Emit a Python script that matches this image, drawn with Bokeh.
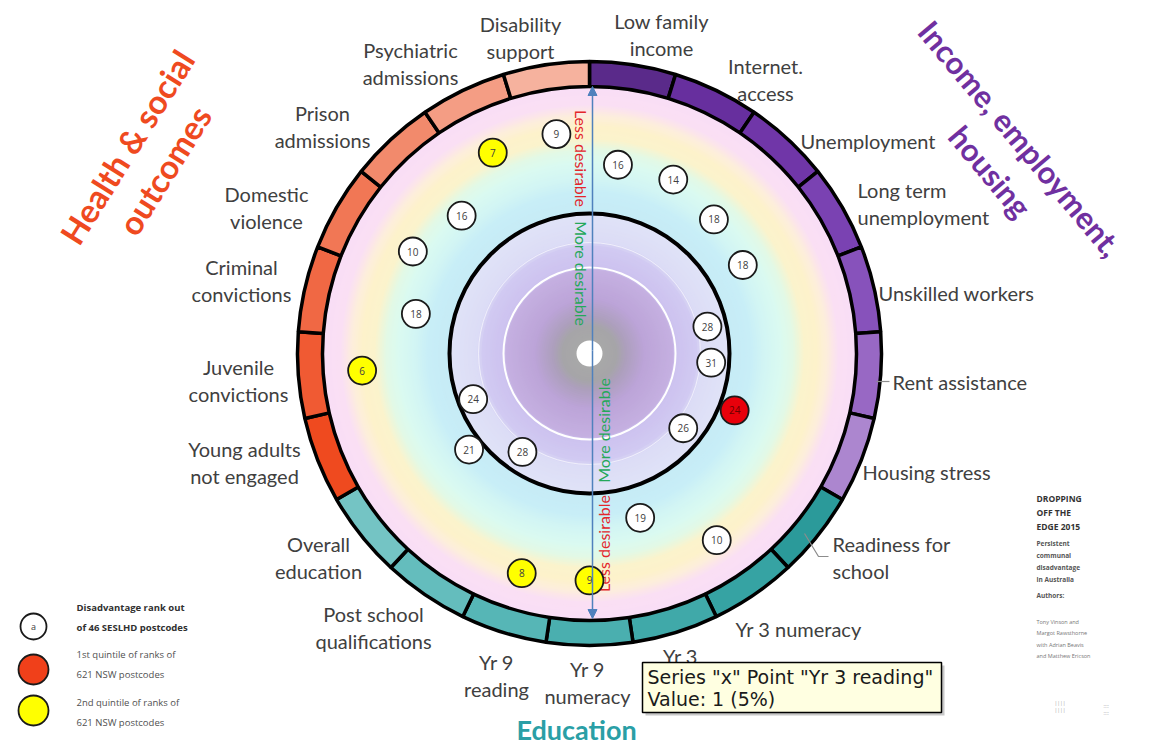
import math
from bokeh.plotting import figure
from bokeh.models import Range1d, ColumnDataSource, Arrow, NormalHead
from bokeh.embed import file_html
from bokeh.resources import INLINE
from bokeh.core.properties import value

# ---------------- data ----------------
CATEGORIES = ["Low family income", "Internet access", "Unemployment", "Long term unemployment",
              "Unskilled workers", "Rent assistance", "Housing stress",
              "Readiness for school", "Yr 3 numeracy", "Yr 3 reading", "Yr 9 numeracy",
              "Yr 9 reading", "Post school qualifications", "Overall education",
              "Young adults not engaged", "Juvenile convictions", "Criminal convictions",
              "Domestic violence", "Prison admissions", "Psychiatric admissions",
              "Disability support"]
LABELS = ["Low family\nincome", "Internet.\naccess", "Unemployment", "Long term\nunemployment",
          "Unskilled workers", "Rent assistance", "Housing stress",
          "Readiness for\nschool", "Yr 3 numeracy", "Yr 3\nreading", "Yr 9\nnumeracy",
          "Yr 9\nreading", "Post school\nqualifications", "Overall\neducation",
          "Young adults\nnot engaged", "Juvenile\nconvictions", "Criminal\nconvictions",
          "Domestic\nviolence", "Prison\nadmissions", "Psychiatric\nadmissions",
          "Disability\nsupport"]
PIE_VALUES = [1] * 21          # series "x", each point value 1 (5%)
RANKS = [16, 14, 18, 18, 28, 31, 24, 26, 10, 19, 9, 8, 28, 21, 24, 6, 18, 10, 16, 7, 9]
# 0 = rank only, 1 = 1st quintile NSW, 2 = 2nd quintile NSW
QUINTILE = [0, 0, 0, 0, 0, 0, 1, 0, 0, 0, 2, 2, 0, 0, 0, 2, 0, 0, 0, 2, 0]
# radial distance (% of the inner edge of the outer ring)
DISTANCE = [71.5, 72.3, 68.5, 66.3, 45.3, 45.7, 58.4, 44.9, 84.6, 64.4, 85.0,
            86.1, 44.6, 57.7, 46.8, 85.4, 66.7, 76.4, 70.4, 83.5, 83.1]

# ---------------- styles / layout ----------------
SEG_COLORS = ["#5a2a8a", "#672f9e", "#7036a8", "#7a42b2", "#8752bb", "#9868c4", "#ac86cf",
              "#2b9a9a", "#36a3a3", "#40a9a9", "#4aafaf", "#56b6b6", "#64bdbd", "#74c4c4",
              "#ef4a1f", "#f05a33", "#f06844", "#f17755", "#f28a6c", "#f49d84", "#f6b29e"]
# label anchors in page pixels (x, y, align)
LABEL_LAYOUT = [(661, 34, "center"), (765, 79, "center"), (800, 140, "left"), (857, 203, "left"),
                (878, 292, "left"), (892, 381, "left"), (862, 471, "left"),
                (832, 557, "left"), (735, 628, "left"), (680, 669, "center"), (587, 682, "center"),
                (496, 675, "center"), (373, 627, "center"), (318, 557, "center"),
                (244, 462, "center"), (238, 380, "center"), (241, 280, "center"),
                (266, 207, "center"), (322, 126, "center"), (410, 63, "center"),
                (520, 37, "center")]

CXI, CYI = 589, 353           # centre of the wheel, page pixels
R_IN, R_OUT = 267, 292


def X(px):
    return px - CXI


def Y(py):
    return CYI - py


W, H = 1154, 747
p = figure(width=W, height=H, x_range=Range1d(-CXI, W - CXI),
           y_range=Range1d(CYI - H, CYI), output_backend="svg",
           toolbar_location=None, min_border=0)
p.axis.visible = False
p.grid.visible = False
p.outline_line_color = None
p.background_fill_color = "white"
p.border_fill_color = "white"


def hex2rgb(h):
    h = h.lstrip("#")
    return tuple(int(h[i:i + 2], 16) for i in (0, 2, 4))


def rgb2hex(c):
    return "#%02x%02x%02x" % tuple(int(round(v)) for v in c)


def gradient_discs(stops, step=2.0):
    radii, cols = [], []
    for (r0, c0), (r1, c1) in zip(stops[:-1], stops[1:]):
        a, b = hex2rgb(c0), hex2rgb(c1)
        n = max(1, int(abs(r0 - r1) / step))
        for k in range(n):
            t = k / n
            radii.append(r0 + (r1 - r0) * t)
            cols.append(rgb2hex([a[j] + (b[j] - a[j]) * t for j in range(3)]))
    return radii, cols


band_stops = [(268, "#f9def6"), (250, "#fadff4"), (238, "#fdeedb"), (228, "#fdf2cb"),
              (216, "#fbf3cc"), (204, "#e2f9e6"), (192, "#dafaf1"), (176, "#d2f5f4"),
              (162, "#c8eef7"), (141, "#c6ebf6"), (140, "#e0e3f7"), (114, "#dcdcf6"),
              (108, "#d1caf2"), (88, "#cdc2ef"), (84, "#c5b0e1"), (56, "#bca4d8"),
              (38, "#ad9fbd"), (28, "#a6a5a8"), (14, "#a8a8a8")]
rr, cc = gradient_discs(band_stops)
p.circle(x=0, y=0, radius=rr, fill_color=cc, line_color=None)
p.circle(x=0, y=0, radius=13, fill_color="white", line_color=None)
p.circle(x=0, y=0, radius=86, fill_color=None, line_color="white", line_width=2)
p.circle(x=0, y=0, radius=111, fill_color=None, line_color="white", line_width=1, line_alpha=0.6)

# outer ring (pie of series "x")
total = float(sum(PIE_VALUES))
cum = 0.0
starts, ends, mids = [], [], []
for v in PIE_VALUES:
    a0 = cum / total * 2 * math.pi
    cum += v
    a1 = cum / total * 2 * math.pi
    starts.append(math.pi / 2 - a1)
    ends.append(math.pi / 2 - a0)
    mids.append((a0 + a1) / 2)
ring = ColumnDataSource(dict(start=starts, end=ends, color=SEG_COLORS, cat=CATEGORIES))
p.annular_wedge(x=0, y=0, inner_radius=R_IN, outer_radius=R_OUT, start_angle="start",
                end_angle="end", fill_color="color", line_color="black", line_width=3.5,
                source=ring)

# black "more / less desirable" circle
p.circle(x=0, y=0, radius=140, fill_color=None, line_color="black", line_width=4)

# arrow through the centre
arrow_col = "#4f81bd"
p.add_layout(Arrow(x_start=X(592), y_start=Y(350), x_end=X(592), y_end=Y(86),
                   line_color=arrow_col, line_width=1.5,
                   end=NormalHead(size=9, fill_color=arrow_col, line_color=arrow_col)))
p.add_layout(Arrow(x_start=X(592), y_start=Y(350), x_end=X(592), y_end=Y(618),
                   line_color=arrow_col, line_width=1.5,
                   end=NormalHead(size=9, fill_color=arrow_col, line_color=arrow_col)))
red, green = "#e3262b", "#25a85a"
p.text(x=[X(581), X(581)], y=[Y(158), Y(273)], text=["Less desirable", "More desirable"],
       angle=-math.pi / 2, text_align="center", text_baseline="middle",
       text_color=[red, green], text_font=value("Lato"), text_font_size="16px")
p.text(x=[X(603), X(603)], y=[Y(430), Y(543)], text=["More desirable", "Less desirable"],
       angle=math.pi / 2, text_align="center", text_baseline="middle",
       text_color=[green, red], text_font=value("Lato"), text_font_size="16px")

# rank markers
fills = {0: "white", 1: "#e8000b", 2: "#ffff00"}
tcols = {0: "#404040", 1: "#6a0000", 2: "#404040"}
px_, py_, fc, tc = [], [], [], []
for m, d, q in zip(mids, DISTANCE, QUINTILE):
    r = d / 100.0 * R_IN
    px_.append(r * math.sin(m))
    py_.append(r * math.cos(m))
    fc.append(fills[q])
    tc.append(tcols[q])
pts = ColumnDataSource(dict(x=px_, y=py_, fill=fc, tcol=tc, rank=[str(v) for v in RANKS],
                            cat=CATEGORIES))
p.circle(x="x", y="y", radius=14, fill_color="fill", line_color="#1a1a1a", line_width=1.8,
         source=pts)
p.text(x="x", y="y", text="rank", text_color="tcol", text_align="center",
       text_baseline="middle", text_font=value("Open Sans"), text_font_size="10px", source=pts)

# category labels
lab_col = "#404040"
for (lx, ly, al), t in zip(LABEL_LAYOUT, LABELS):
    p.text(x=[X(lx)], y=[Y(ly)], text=[t], text_align=al, text_baseline="middle",
           text_color=lab_col, text_font=value("Lato"), text_font_size="20px",
           text_line_height=1.15)
# leader lines
p.line(x=[X(876), X(889)], y=[Y(381), Y(381)], line_color="#8c8c8c", line_width=1.2)
p.line(x=[X(804), X(818), X(828)], y=[Y(533), Y(556), Y(556)], line_color="#8c8c8c",
       line_width=1.2)

# domain titles
p.text(x=[X(145)], y=[Y(158)], text=["Health & social\noutcomes"], angle=math.radians(58),
       text_align="center", text_baseline="middle", text_color="#ef4a1f",
       text_font=value("Lato"), text_font_style="bold", text_font_size="33px",
       text_line_height=1.1)
p.text(x=[X(1020), X(990)], y=[Y(138), Y(171)], text=["Income, employment,", "housing"],
       angle=math.radians(-50), text_align="center", text_baseline="middle",
       text_color="#7030a0", text_font=value("Lato"), text_font_style="bold",
       text_font_size="31px")
p.text(x=[X(576)], y=[Y(729)], text=["Education"], text_align="center",
       text_baseline="middle", text_color="#2a9fa6", text_font=value("Lato"),
       text_font_style="bold", text_font_size="27px")

# legend
p.circle(x=[X(33), X(33), X(33)], y=[Y(626), Y(669), Y(710)], radius=[13, 15, 15],
         fill_color=["white", "#f0401a", "#ffff00"], line_color="#1a1a1a", line_width=1.8)
p.text(x=[X(33)], y=[Y(626)], text=["a"], text_align="center", text_baseline="middle",
       text_font=value("Open Sans"), text_font_size="9px", text_color="#404040")
p.text(x=[X(76)], y=[Y(617)], text=["Disadvantage rank out\nof 46 SESLHD postcodes"],
       text_align="left", text_baseline="middle", text_font=value("Open Sans"),
       text_font_style="bold", text_font_size="9.5px", text_color="#303030",
       text_line_height=1.5)
p.text(x=[X(76), X(76)], y=[Y(664), Y(712)],
       text=["1st quintile of ranks of\n621 NSW postcodes",
             "2nd quintile  of ranks of\n621 NSW postcodes"],
       text_align="left", text_baseline="middle", text_font=value("Open Sans"),
       text_font_size="9.5px", text_color="#505050", text_line_height=1.5)

# report credits
p.text(x=[X(1036)], y=[Y(512)], text=["DROPPING\nOFF THE\nEDGE 2015"], text_align="left",
       text_baseline="middle", text_font=value("Open Sans"), text_font_style="bold",
       text_font_size="8.5px", text_color="#333333", text_line_height=1.3)
p.text(x=[X(1036)], y=[Y(561)], text=["Persistent\ncommunal\ndisadvantage\nin Australia"],
       text_align="left", text_baseline="middle", text_font=value("Open Sans"),
       text_font_style="bold", text_font_size="6.5px", text_color="#555555",
       text_line_height=1.3)
p.text(x=[X(1036)], y=[Y(595)], text=["Authors:"], text_align="left",
       text_baseline="middle", text_font=value("Open Sans"), text_font_style="bold",
       text_font_size="6.5px", text_color="#555555")
p.text(x=[X(1036), X(1036)], y=[Y(627), Y(650)],
       text=["Tony Vinson and\nMargot Rawsthorne", "with Adrian Beavis\nand Matthew Ericson"],
       text_align="left", text_baseline="middle", text_font=value("Open Sans"),
       text_font_size="5.5px", text_color="#777777", text_line_height=1.3)
p.text(x=[X(1054), X(1103)], y=[Y(706), Y(709)], text=["||||\n||||", "::::\n::::"],
       text_align="left", text_baseline="middle", text_font=value("Open Sans"),
       text_font_size="5px", text_color="#a0a0a0")

# tooltip
p.quad(left=[X(645)], right=[X(944)], top=[Y(665)], bottom=[Y(715)], fill_color="#9a9a9a",
       fill_alpha=0.55, line_color=None)
p.quad(left=[X(642)], right=[X(941)], top=[Y(662)], bottom=[Y(712)], fill_color="#ffffe1",
       line_color="black", line_width=1.5)
p.text(x=[X(647), X(647)], y=[Y(676), Y(698)],
       text=['Series "x" Point "Yr 3 reading"', "Value: 1 (5%)"], text_align="left",
       text_baseline="middle", text_font=value("DejaVu Sans"), text_font_size="19px",
       text_color="#1a1a1a")

open("out.html", "w").write(file_html(p, INLINE))
